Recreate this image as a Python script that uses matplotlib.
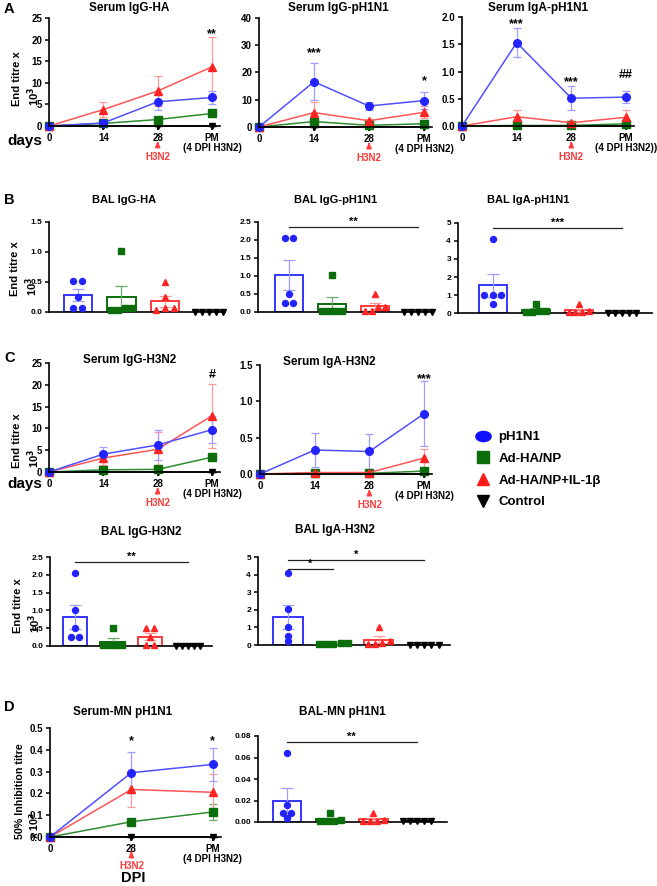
import numpy as np
import matplotlib
matplotlib.use('Agg')
import matplotlib.pyplot as plt
from matplotlib.path import Path
from matplotlib.lines import Line2D
from matplotlib.ticker import FormatStrFormatter
import matplotlib.transforms as mtransforms

plt.rcParams['font.family'] = ['Liberation Sans', 'DejaVu Sans']
plt.rcParams['font.weight'] = 'bold'
plt.rcParams['mathtext.default'] = 'bf'

W, H = 657, 886

groups = ['pH1N1', 'Ad-HA/NP', 'Ad-HA/NP+IL-1β', 'Control']

# ---------------- line-panel data ----------------
days_A = ['0', '14', '28', 'PM\n(4 DPI H3N2)']
days_A3 = ['0', '14', '28', 'PM\n(4 DPI H3N2))']
days_D = ['0', '28', 'PM\n(4 DPI H3N2)']

ser_igg_ha_mean = {'pH1N1': [0, 0.7, 5.6, 6.6], 'Ad-HA/NP': [0, 0.6, 1.5, 2.9],
                   'Ad-HA/NP+IL-1β': [0, 3.8, 8.1, 13.7], 'Control': [0, 0, 0, 0]}
ser_igg_ha_err = {'pH1N1': [0, 0.4, 1.9, 1.6], 'Ad-HA/NP': [0, 0.2, 0.4, 0.7],
                  'Ad-HA/NP+IL-1β': [0, 1.8, 3.4, 7.0], 'Control': [0, 0, 0, 0]}

ser_igg_ph1_mean = {'pH1N1': [0, 16.6, 7.7, 9.7], 'Ad-HA/NP': [0, 2.0, 0.6, 1.2],
                    'Ad-HA/NP+IL-1β': [0, 5.3, 2.3, 5.4], 'Control': [0, 0, 0, 0]}
ser_igg_ph1_err = {'pH1N1': [0, 6.8, 1.5, 3.1], 'Ad-HA/NP': [0, 0.5, 0.2, 0.3],
                   'Ad-HA/NP+IL-1β': [0, 4.0, 0.8, 2.2], 'Control': [0, 0, 0, 0]}

ser_iga_ph1_mean = {'pH1N1': [0, 1.53, 0.51, 0.53], 'Ad-HA/NP': [0, 0.01, 0.01, 0.04],
                    'Ad-HA/NP+IL-1β': [0, 0.17, 0.06, 0.16], 'Control': [0, 0, 0, 0]}
ser_iga_ph1_err = {'pH1N1': [0, 0.26, 0.22, 0.11], 'Ad-HA/NP': [0, 0.01, 0.01, 0.02],
                   'Ad-HA/NP+IL-1β': [0, 0.12, 0.03, 0.13], 'Control': [0, 0, 0, 0]}

ser_igg_h3_mean = {'pH1N1': [0, 4.1, 6.2, 9.7], 'Ad-HA/NP': [0, 0.5, 0.6, 3.4],
                   'Ad-HA/NP+IL-1β': [0, 3.2, 5.2, 12.9], 'Control': [0, 0, 0, 0]}
ser_igg_h3_err = {'pH1N1': [0, 1.6, 3.5, 3.1], 'Ad-HA/NP': [0, 0.2, 0.2, 0.6],
                  'Ad-HA/NP+IL-1β': [0, 1.5, 4.0, 7.3], 'Control': [0, 0, 0, 0]}

ser_iga_h3_mean = {'pH1N1': [0, 0.33, 0.31, 0.83], 'Ad-HA/NP': [0, 0.01, 0.01, 0.04],
                   'Ad-HA/NP+IL-1β': [0, 0.02, 0.02, 0.22], 'Control': [0, 0, 0, 0]}
ser_iga_h3_err = {'pH1N1': [0, 0.24, 0.24, 0.45], 'Ad-HA/NP': [0, 0.005, 0.005, 0.02],
                  'Ad-HA/NP+IL-1β': [0, 0.01, 0.01, 0.12], 'Control': [0, 0, 0, 0]}

ser_mn_mean = {'pH1N1': [0, 0.295, 0.333], 'Ad-HA/NP': [0, 0.070, 0.115],
               'Ad-HA/NP+IL-1β': [0, 0.218, 0.205], 'Control': [0, 0, 0]}
ser_mn_err = {'pH1N1': [0, 0.095, 0.076], 'Ad-HA/NP': [0, 0.008, 0.037],
              'Ad-HA/NP+IL-1β': [0, 0.080, 0.085], 'Control': [0, 0, 0]}

# ---------------- bar-panel data (individual animals) ----------------
bal_igg_ha = {'pH1N1': [0.51, 0.51, 0.25, 0.06, 0.06], 'Ad-HA/NP': [1.02, 0.04, 0.07, 0.04, 0.07],
              'Ad-HA/NP+IL-1β': [0.50, 0.25, 0.06, 0.03, 0.06], 'Control': [0, 0, 0, 0, 0]}
bal_igg_ph1 = {'pH1N1': [2.05, 2.05, 0.51, 0.25, 0.25], 'Ad-HA/NP': [1.02, 0.03, 0.03, 0.03, 0.03],
               'Ad-HA/NP+IL-1β': [0.51, 0.13, 0.13, 0.03, 0.03], 'Control': [0, 0, 0, 0, 0]}
bal_iga_ph1 = {'pH1N1': [4.10, 1.02, 1.02, 1.02, 0.51], 'Ad-HA/NP': [0.51, 0.13, 0.13, 0.06, 0.06],
               'Ad-HA/NP+IL-1β': [0.50, 0.13, 0.06, 0.06, 0.06], 'Control': [0, 0, 0, 0, 0]}
bal_igg_h3 = {'pH1N1': [2.05, 1.02, 0.51, 0.25, 0.25], 'Ad-HA/NP': [0.51, 0.03, 0.03, 0.03, 0.03],
              'Ad-HA/NP+IL-1β': [0.50, 0.50, 0.25, 0.03, 0.03], 'Control': [0, 0, 0, 0, 0]}
bal_iga_h3 = {'pH1N1': [4.10, 2.05, 1.02, 0.51, 0.25], 'Ad-HA/NP': [0.13, 0.06, 0.03, 0.13, 0.03],
              'Ad-HA/NP+IL-1β': [1.02, 0.25, 0.13, 0.06, 0.06], 'Control': [0, 0, 0, 0, 0]}
bal_mn = {'pH1N1': [0.064, 0.016, 0.008, 0.008, 0.004], 'Ad-HA/NP': [0.008, 0.002, 0.001, 0.001, 0.001],
          'Ad-HA/NP+IL-1β': [0.008, 0.002, 0.001, 0.001, 0.001], 'Control': [0.001, 0.001, 0.001, 0.001, 0.001]}

# ---------------- styles ----------------
mcol = {'pH1N1': '#2323ff', 'Ad-HA/NP': '#0b6e0b', 'Ad-HA/NP+IL-1β': '#ff2424', 'Control': '#000000'}
lcol = {'pH1N1': '#5050ff', 'Ad-HA/NP': '#2e8b2e', 'Ad-HA/NP+IL-1β': '#ff5555', 'Control': '#000000'}
ecol = {'pH1N1': '#9f9fff', 'Ad-HA/NP': '#6aaa6a', 'Ad-HA/NP+IL-1β': '#ff9a9a', 'Control': '#000000'}
bcol = {'pH1N1': '#3535ff', 'Ad-HA/NP': '#0b6e0b', 'Ad-HA/NP+IL-1β': '#ff3a3a', 'Control': '#000000'}
mark = {'pH1N1': 'o', 'Ad-HA/NP': 's', 'Ad-HA/NP+IL-1β': '^', 'Control': 'v'}

fig = plt.figure(figsize=(W / 100, H / 100), dpi=100)


def px_axes(left, top, right, bottom):
    return fig.add_axes([left / W, 1 - bottom / H, (right - left) / W, (bottom - top) / H])


def ftext(x, y, s, **kw):
    fig.text(x / W, 1 - y / H, s, **kw)


def style_axes(ax, fs):
    for sp in ['top', 'right']:
        ax.spines[sp].set_visible(False)
    for sp in ['left', 'bottom']:
        ax.spines[sp].set_linewidth(1.2)
    ax.tick_params(axis='both', direction='out', length=3, width=1.1, labelsize=fs, pad=2)
    for lab in ax.get_yticklabels() + ax.get_xticklabels():
        lab.set_fontweight('bold')


def line_panel(ax, means, errs, xlabels, xmax, ylim, yticks, fmt, sigs, arrow_idx,
               arrow_y=-0.14, text_y=-0.285):
    x = np.arange(len(xlabels))
    for g in ['Control', 'Ad-HA/NP', 'Ad-HA/NP+IL-1β', 'pH1N1']:
        ax.errorbar(x, means[g], yerr=errs[g], color=lcol[g], ecolor=ecol[g], elinewidth=0.9,
                    capsize=3, capthick=0.9, marker=mark[g], mfc=mcol[g], mec=mcol[g],
                    ms=5.5 if g != 'Control' else 5, lw=1.1, clip_on=False)
    ax.set_xlim(0, xmax)
    ax.set_ylim(*ylim)
    ax.set_yticks(yticks)
    ax.yaxis.set_major_formatter(FormatStrFormatter(fmt))
    ax.set_xticks(x)
    ax.set_xticklabels(xlabels, linespacing=1.0)
    style_axes(ax, 7)
    for xi, yv, s in sigs:
        ax.text(xi, yv, s, ha='center', va='center', fontsize=9, fontweight='bold')
    ax.annotate('H3N2', xy=(arrow_idx, arrow_y), xycoords=('data', 'axes fraction'),
                xytext=(arrow_idx, text_y), textcoords=('data', 'axes fraction'),
                ha='center', va='center', color='#ff3b3b', fontsize=7, fontweight='bold',
                arrowprops=dict(arrowstyle='-|>,head_width=0.2,head_length=0.45', color='#ff3b3b',
                                lw=1.2, shrinkA=4, shrinkB=0))


def swarm(vals, tol, d):
    vals = np.asarray(vals, float)
    order = np.argsort(vals, kind='stable')
    offs = np.zeros(len(vals))
    clusters, cur = [], [order[0]]
    for idx in order[1:]:
        if vals[idx] - vals[cur[-1]] <= tol:
            cur.append(idx)
        else:
            clusters.append(cur)
            cur = [idx]
    clusters.append(cur)
    for c in clusters:
        n = len(c)
        step = d if n <= 3 else d * 0.8
        for k, idx in enumerate(c):
            offs[idx] = (k - (n - 1) / 2) * step
    return offs


def bar_panel(ax, pts, xlim, ylim, yticks, fmt, lines):
    for i, g in enumerate(groups):
        v = np.asarray(pts[g], float)
        m = v.mean()
        se = v.std(ddof=1) / np.sqrt(len(v))
        ax.bar(i, m, width=0.65, facecolor='white', edgecolor=bcol[g], lw=1.4, zorder=2)
        if se > 0:
            ax.errorbar(i, m, yerr=se, fmt='none', ecolor=ecol[g], elinewidth=0.9, capsize=4.5,
                        capthick=0.9, zorder=3)
        off = swarm(v, 0.04 * ylim[1], 0.2)
        ax.plot(i + off, v, ls='', marker=mark[g], ms=4.3, color=mcol[g], clip_on=False, zorder=4)
    ax.set_xlim(*xlim)
    ax.set_ylim(*ylim)
    ax.set_yticks(yticks)
    ax.yaxis.set_major_formatter(FormatStrFormatter(fmt))
    ax.set_xticks([])
    style_axes(ax, 6)
    for a, b, yv, s in lines:
        ax.plot([a, b], [yv, yv], color='#222222', lw=0.9)
        ax.text((a + b) / 2, yv, s, ha='center', va='bottom', fontsize=8, fontweight='bold')


def ylab(x, ybottom, s, fs=8):
    ftext(x, ybottom, s, rotation=90, ha='center', va='bottom', multialignment='left',
          fontsize=fs, fontweight='bold', linespacing=1.25)


# ---------------- Panel A ----------------
ax = px_axes(49, 18, 220, 126)
line_panel(ax, ser_igg_ha_mean, ser_igg_ha_err, days_A, 3.147, (0, 25), [0, 5, 10, 15, 20, 25], '%d',
           [(3, 21.3, '**')], 2)
ax = px_axes(259, 18, 432, 127)
line_panel(ax, ser_igg_ph1_mean, ser_igg_ph1_err, days_A, 3.145, (0, 40), [0, 10, 20, 30, 40], '%d',
           [(1, 27.0, '***'), (3, 17.0, '*')], 2)
ax = px_axes(462, 17, 634, 126)
line_panel(ax, ser_iga_ph1_mean, ser_iga_ph1_err, days_A3, 3.146, (0, 2.0), [0, 0.5, 1.0, 1.5, 2.0], '%.1f',
           [(1, 1.86, '***'), (2, 0.81, '***'), (3, 0.93, '##')], 2)

ftext(4, 9, 'A', fontsize=10.5, fontweight='bold', va='center')
ftext(129, 8, 'Serum IgG-HA', fontsize=8.5, fontweight='bold', ha='center', va='center')
ftext(338, 8, 'Serum IgG-pH1N1', fontsize=8.5, fontweight='bold', ha='center', va='center')
ftext(538, 8, 'Serum IgA-pH1N1', fontsize=8.5, fontweight='bold', ha='center', va='center')
ylab(27, 106, 'End titre x\n10$^3$')
ftext(25, 141, 'days', fontsize=11, fontweight='bold', ha='center', va='center')

# ---------------- Panel B ----------------
ax = px_axes(49, 222, 225, 312)
bar_panel(ax, bal_igg_ha, (-0.66, 3.37), (0, 1.5), [0, 0.5, 1.0, 1.5], '%.1f', [])
ax = px_axes(258, 222, 433, 312)
bar_panel(ax, bal_igg_ph1, (-0.72, 3.35), (0, 2.5), [0, 0.5, 1.0, 1.5, 2.0, 2.5], '%.1f',
          [(0, 3, 2.36, '**')])
ax = px_axes(458, 223, 652, 313)
bar_panel(ax, bal_iga_ph1, (-0.81, 3.7), (0, 5), [0, 1, 2, 3, 4, 5], '%d',
          [(0, 3, 4.72, '***')])
ftext(4, 200, 'B', fontsize=10.5, fontweight='bold', va='center')
ftext(124, 200, 'BAL IgG-HA', fontsize=8, fontweight='bold', ha='center', va='center')
ftext(336, 200, 'BAL IgG-pH1N1', fontsize=8, fontweight='bold', ha='center', va='center')
ftext(528, 200, 'BAL IgA-pH1N1', fontsize=8, fontweight='bold', ha='center', va='center')
ylab(25, 296, 'End titre x\n10$^3$')

# ---------------- Panel C ----------------
ax = px_axes(49, 363, 220, 472)
line_panel(ax, ser_igg_h3_mean, ser_igg_h3_err, days_A, 3.147, (0, 25), [0, 5, 10, 15, 20, 25], '%d',
           [(3, 22.2, '#')], 2)
ax = px_axes(260, 365, 432, 474)
line_panel(ax, ser_iga_h3_mean, ser_iga_h3_err, days_A, 3.145, (0, 1.5), [0, 0.5, 1.0, 1.5], '%.1f',
           [(3, 1.30, '***')], 2)
ftext(4, 358, 'C', fontsize=10.5, fontweight='bold', va='center')
ftext(130, 360, 'Serum IgG-H3N2', fontsize=8.5, fontweight='bold', ha='center', va='center')
ftext(329, 362, 'Serum IgA-H3N2', fontsize=8.5, fontweight='bold', ha='center', va='center')
ylab(27, 468, 'End titre x\n10$^3$')
ftext(25, 484, 'days', fontsize=11, fontweight='bold', ha='center', va='center')

ax = px_axes(50, 557, 212, 646)
bar_panel(ax, bal_igg_h3, (-0.66, 3.64), (0, 2.5), [0, 0.5, 1.0, 1.5, 2.0, 2.5], '%.1f',
          [(0, 3, 2.36, '**')])
ax = px_axes(258, 557, 450, 645)
bar_panel(ax, bal_iga_h3, (-0.66, 3.57), (0, 5), [0, 1, 2, 3, 4, 5], '%d',
          [(0, 1, 4.32, '*'), (0, 3, 4.83, '*')])
ftext(141, 532, 'BAL IgG-H3N2', fontsize=8.5, fontweight='bold', ha='center', va='center')
ftext(335, 530, 'BAL IgA-H3N2', fontsize=8.5, fontweight='bold', ha='center', va='center')
ylab(28, 633, 'End titre x\n10$^3$')

# legend
ellipse = Path.unit_circle().transformed(mtransforms.Affine2D().scale(1.5, 1.0))
handles = [Line2D([], [], ls='', marker=ellipse, ms=11, color='#1010ff'),
           Line2D([], [], ls='', marker='s', ms=8, color='#0b6e0b'),
           Line2D([], [], ls='', marker='^', ms=9, color='#ff1a1a'),
           Line2D([], [], ls='', marker='v', ms=8, color='#000000')]
fig.legend(handles, groups, loc='upper left', bbox_to_anchor=(472 / W, 1 - 431 / H), frameon=False,
           prop={'weight': 'bold', 'size': 9.5}, handletextpad=0.4, labelspacing=0.72,
           handlelength=1.6, borderaxespad=0, borderpad=0)

# ---------------- Panel D ----------------
ax = px_axes(50, 728, 221, 837)
line_panel(ax, ser_mn_mean, ser_mn_err, days_D, 2.1, (0, 0.5), [0, 0.1, 0.2, 0.3, 0.4, 0.5], '%.1f',
           [(1, 0.44, '*'), (2, 0.44, '*')], 1, arrow_y=-0.13, text_y=-0.265)
ax = px_axes(258, 736, 447, 822)
bar_panel(ax, bal_mn, (-0.67, 3.7), (0, 0.08), [0, 0.02, 0.04, 0.06, 0.08], '%.2f',
          [(0, 3, 0.0744, '**')])
ftext(4, 707, 'D', fontsize=10.5, fontweight='bold', va='center')
ftext(123, 712, 'Serum-MN pH1N1', fontsize=8.5, fontweight='bold', ha='center', va='center')
ftext(342, 712, 'BAL-MN pH1N1', fontsize=8.5, fontweight='bold', ha='center', va='center')
ylab(28, 839, '50% Inhibition titre\nx 10$^3$', fs=7.7)
ftext(133, 878, 'DPI', fontsize=10.5, fontweight='bold', ha='center', va='center')

fig.savefig('out.png', dpi=100)
